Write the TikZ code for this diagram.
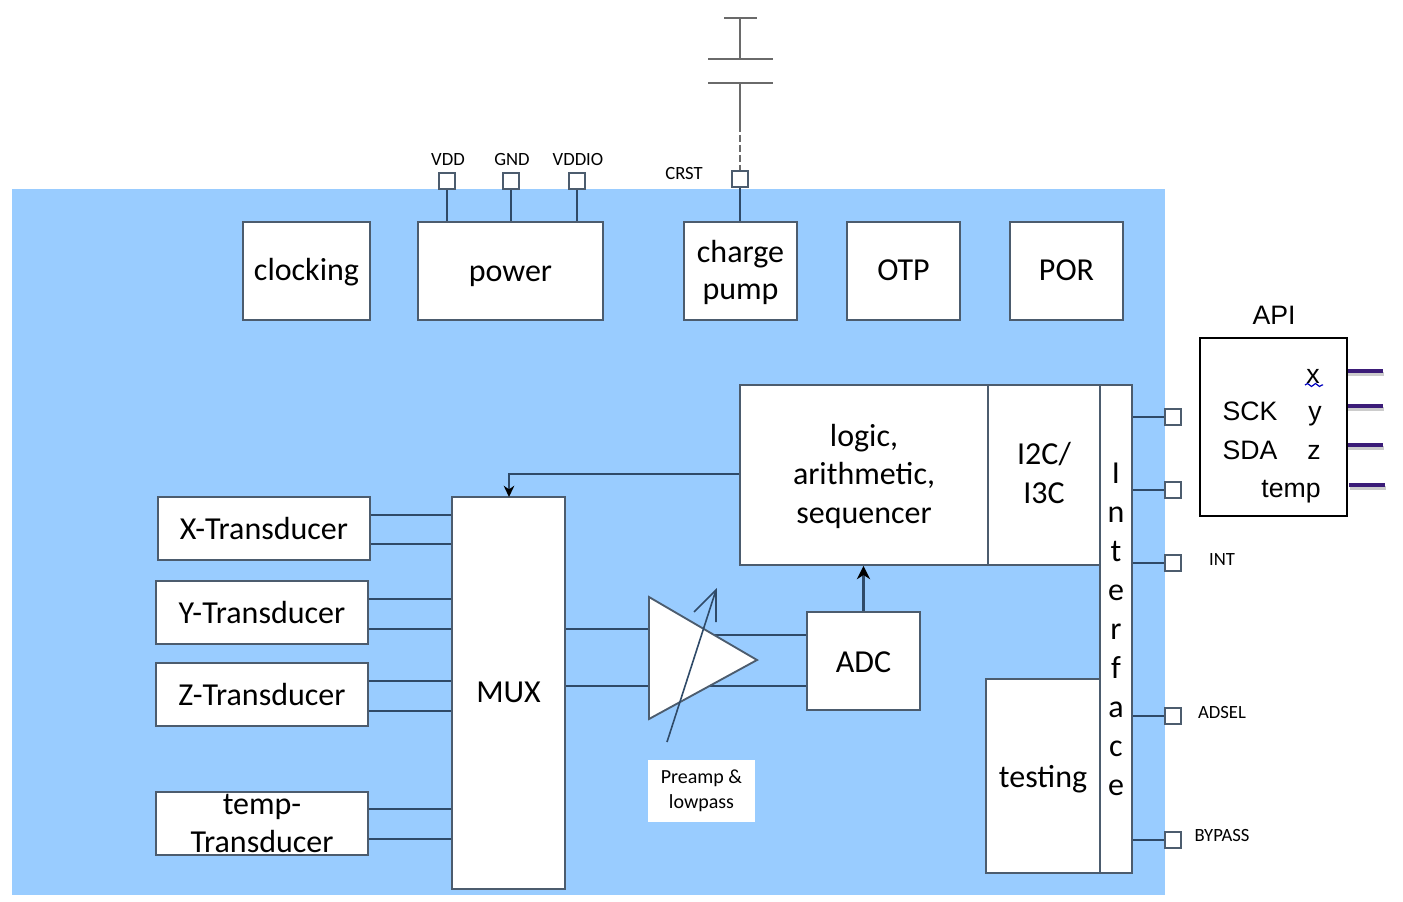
\documentclass[tikz,border=0pt]{standalone}
\usepackage{fontspec}
\setmainfont{Carlito}
\newfontfamily\apifont{Liberation Sans}
\usetikzlibrary{arrows.meta,decorations.pathmorphing}
\definecolor{chipblue}{HTML}{99CCFF}
\definecolor{edgegray}{HTML}{4C5C6E}
\definecolor{wiregray}{HTML}{2F4A68}
\definecolor{capgray}{HTML}{6A6A6A}
\definecolor{stubpurple}{HTML}{3B1C78}
\newcommand{\nudge}[2]{\raisebox{#1}[\height][\depth]{#2}}
\tikzset{
    block/.style={draw=edgegray, line width=1.4pt, fill=white, font=\fontsize{24}{28}\selectfont, align=center, inner sep=0pt},
    pin/.style={draw=edgegray, line width=1.3pt, fill=white, minimum size=12pt, inner sep=0pt},
    pinlabel/.style={font=\fontsize{14}{16}\selectfont, inner sep=0pt},
    wire/.style={draw=wiregray, line width=1.2pt},
    capline/.style={draw=capgray, line width=1.3pt},
    apitext/.style={font=\apifont\fontsize{20}{24}\selectfont, inner sep=0pt},
    stub/.style={draw=stubpurple, line width=3pt},
    stubshadow/.style={draw=gray!40, line width=2.5pt},
}
\begin{document}
\begin{tikzpicture}[x=0.75pt, y=-0.75pt]
    \useasboundingbox (0,0) rectangle (1403,902);
    \fill[chipblue] (12,189) rectangle (1165,895);
    % top row
    \node[block, minimum width=95.25pt, minimum height=73.5pt] (clocking) at (306.5,271) {\nudge{-0.75pt}{clocking}};
    \node[block, minimum width=138.75pt, minimum height=73.5pt] (power) at (510.5,271) {\nudge{-1.5pt}{\vphantom{l}power}};
    \node[block, minimum width=84.75pt, minimum height=73.5pt] (pump) at (740.5,271) {\nudge{-1pt}{charge}\\\nudge{-1pt}{pump}};
    \node[block, minimum width=84.75pt, minimum height=73.5pt] (otp) at (903.5,271) {\nudge{0.75pt}{OTP}};
    \node[block, minimum width=84.75pt, minimum height=73.5pt] (por) at (1066.5,271) {\nudge{0.75pt}{POR}};
    % pins on top
    \node[pin] (vdd) at (447,181) {};
    \node[pin] (gnd) at (511,181) {};
    \node[pin] (vddio) at (577,181) {};
    \node[pin] (crst) at (740,179) {};
    \node[pinlabel] (vddl) at (448,160) {VDD};
    \node[pinlabel] (gndl) at (512,160) {GND};
    \node[pinlabel] (vddiol) at (578,160) {VDDIO};
    \node[pinlabel] (crstl) at (684,174) {CRST};
    \draw[wire] (vdd) -- (vdd |- power.north);
    \draw[wire] (gnd) -- (gnd |- power.north);
    \draw[wire] (vddio) -- (vddio |- power.north);
    \draw[wire] (crst) -- (crst |- pump.north);
    % capacitor
    \coordinate (captop) at (740,18);
    \coordinate (capa) at (740,59);
    \coordinate (capb) at (740,83);
    \coordinate (capc) at (740,125);
    \draw[capline] (724,18) -- (757,18);
    \draw[capline] (captop) -- (capa);
    \draw[capline] (708,59) -- (773,59);
    \draw[capline] (708,83) -- (773,83);
    \draw[capline] (capb) -- (capc);
    \draw[capline, dash pattern=on 5pt off 2.5pt] (capc) -- (crst);
    % lower blocks
    \node[block, minimum width=186pt, minimum height=135pt] (logic) at (864,475) {\nudge{-1pt}{logic,}\\[1pt]\nudge{-1pt}{arithmetic,}\\[1pt]\nudge{-1pt}{sequencer}};
    \node[block, minimum width=84pt, minimum height=135pt] (i2c) at (1044,475) {\nudge{1.5pt}{I2C/}\\[1pt]\nudge{1.5pt}{I3C}};
    \node[block, minimum width=85.5pt, minimum height=145.5pt] (testing) at (1043,776) {\nudge{-2.25pt}{testing}};
    \node[block, minimum width=24pt, minimum height=366pt, font=\fontsize{24}{29.25}\selectfont] (interface) at (1116,629) {I\\n\\t\\e\\r\\f\\a\\c\\e};
    \node[block, minimum width=84.75pt, minimum height=294pt] (mux) at (508.5,693) {\nudge{0.75pt}{MUX}};
    \node[block, minimum width=159pt, minimum height=47.25pt] (xtrans) at (264,528.5) {X-Transducer};
    \node[block, minimum width=159pt, minimum height=47.25pt] (ytrans) at (262,612.5) {Y-Transducer};
    \node[block, minimum width=159pt, minimum height=47.25pt] (ztrans) at (262,694.5) {Z-Transducer};
    \node[block, minimum width=159pt, minimum height=47.25pt, font=\fontsize{24}{28.5}\selectfont] (ttrans) at (262,823.5) {temp-\\Transducer};
    \node[block, minimum width=84.75pt, minimum height=73.5pt] (adc) at (863.5,661) {\nudge{-0.75pt}{ADC}};
    % transducers to mux
    \foreach \from/\ya/\yb in {xtrans/515/544, ytrans/599/629, ztrans/681/711, ttrans/809/839} {
        \draw[wire] (\from.east |- 0,\ya) -- (mux.west |- 0,\ya);
        \draw[wire] (\from.east |- 0,\yb) -- (mux.west |- 0,\yb);
    }
    % amplifier
    \coordinate (ampa) at (649,597);
    \coordinate (ampb) at (649,719);
    \coordinate (ampc) at (757,660);
    \draw[wire] (mux.east |- 0,629) -- (ampa |- 0,629);
    \draw[wire] (mux.east |- 0,686) -- (ampa |- 0,686);
    \draw[wire] (ampa |- 0,635) -- (adc.west |- 0,635);
    \draw[wire] (ampa |- 0,686) -- (adc.west |- 0,686);
    \draw[edgegray, line width=1.4pt, fill=white] (ampa) -- (ampb) -- (ampc) -- cycle;
    \coordinate (tunea) at (667,742);
    \coordinate (tuneb) at (716,590);
    \draw[wire] (tunea) -- (tuneb);
    \draw[wire] (694,612) -- (tuneb) -- (716,622);
    \node[fill=white, minimum width=80pt, minimum height=46.5pt, inner sep=0pt, align=center, font=\fontsize{15}{19}\selectfont] (preamp) at (701.5,791) {Preamp \&\\lowpass};
    % arrows
    \draw[wire, line width=1.6pt, -{Stealth[length=10pt, width=10pt, black]}] (adc.north) -- (adc.north |- logic.south);
    \draw[wire, -{Stealth[length=8.5pt, width=8pt, black]}] (logic.west |- 0,474) -- (509,474) -- (509,497);
    % pins on the right
    \foreach \name/\yy in {pina/417, pinb/490, pinc/563, pind/716, pine/840} {
        \node[pin] (\name) at (1173,\yy) {};
        \draw[wire] (interface.east |- \name) -- (\name);
    }
    \node[pinlabel] (intl) at (1222,560) {INT};
    \node[pinlabel] (adsell) at (1222,713) {ADSEL};
    \node[pinlabel] (bypassl) at (1222,836) {BYPASS};
    % API box
    \node[draw=black, line width=1.8pt, fill=white, minimum width=110pt, minimum height=133.5pt, inner sep=0pt] (api) at (1273.5,427) {};
    \node[apitext] (apil) at (1274,315) {API};
    \node[apitext, anchor=base] (apix) at (1313,383) {x};
    \node[apitext, anchor=base] (apiy) at (1315,420) {y};
    \node[apitext, anchor=base] (apiz) at (1314,459) {z};
    \node[apitext, anchor=base] (apitemp) at (1291,497) {temp};
    \node[apitext, anchor=base] (apisck) at (1250,420) {SCK};
    \node[apitext, anchor=base] (apisda) at (1250,459) {SDA};
    \draw[blue!75!black, line width=0.9pt, decorate, decoration={snake, amplitude=1.1pt, segment length=6pt}] (1305,385) -- (1323,385);
    \foreach \yy in {371, 406, 445} {
        \draw[stubshadow] (api.east |- 0,\yy+3) -- (1384,\yy+3);
        \draw[stub] (api.east |- 0,\yy) -- (1383,\yy);
    }
    \draw[stubshadow] (1350,488) -- (1386,488);
    \draw[stub] (1349,485) -- (1385,485);
\end{tikzpicture}
\end{document}
